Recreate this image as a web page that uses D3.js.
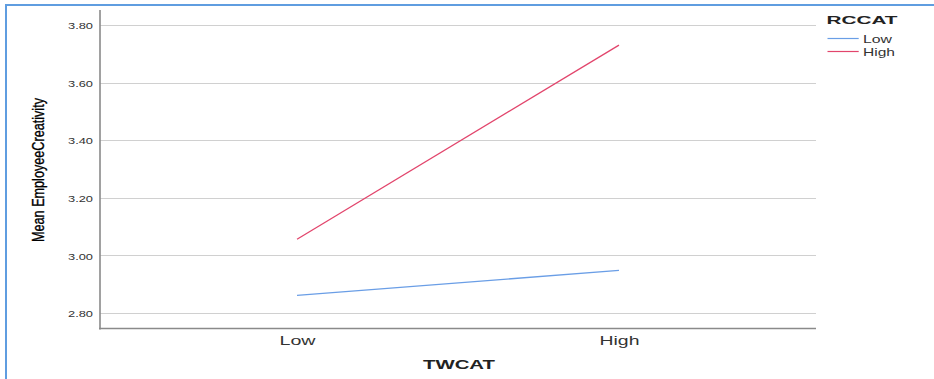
<!DOCTYPE html>
<html><head><meta charset="utf-8">
<script src="https://cdn.jsdelivr.net/npm/d3@7"></script>
<style>html,body{margin:0;padding:0;background:#fff;}svg{display:block;}</style>
</head><body>
<svg id="chart" width="934" height="379"></svg>
<script>
const categories = ["Low", "High"];
const seriesNames = ["Low", "High"];
const lowValues = [2.861, 2.948];
const highValues = [3.056, 3.730];
const yTicks = [2.80, 3.00, 3.20, 3.40, 3.60, 3.80];
const colors = ["#6a9ee6", "#e2456c"];

(function(){
const svg = d3.select("#chart");
const FF = "Liberation Sans, Arial, sans-serif";
// frame
svg.append("line").attr("x1",6).attr("x2",934).attr("y1",5).attr("y2",5).attr("stroke","#5f9de0").attr("stroke-width",2);
svg.append("line").attr("x1",6).attr("x2",6).attr("y1",4).attr("y2",379).attr("stroke","#5f9de0").attr("stroke-width",2);

const mL = 100, mR = 816, mT = 10, mB = 328.5;
const y = d3.scaleLinear().domain([2.8 - 15.5/288, 3.8 + 15/288]).range([mB, mT]);
const x = d3.scalePoint().domain(categories).range([mL, mR]).padding(0.612);

// gridlines
svg.append("g").selectAll("line").data(yTicks).join("line")
  .attr("x1", mL).attr("x2", mR)
  .attr("y1", d => Math.round(y(d))+0.5).attr("y2", d => Math.round(y(d))+0.5)
  .attr("stroke", "#d0d0d0").attr("stroke-width", 1);

// y axis
const yAxis = d3.axisLeft(y).tickValues(yTicks).tickFormat(d3.format(".2f")).tickSize(0).tickPadding(7);
const gy = svg.append("g").attr("transform", `translate(${mL},0)`).call(yAxis);
gy.select(".domain").remove();
gy.selectAll("text").attr("font-family",FF).attr("font-size","8.5px").attr("fill","#333")
  .attr("dy", "0.62em").attr("y", -1.5)
  .attr("textLength", 25).attr("lengthAdjust","spacingAndGlyphs");
svg.append("line").attr("x1",mL).attr("x2",mL).attr("y1",mT).attr("y2",mB+1).attr("stroke","#8a8a8a").attr("stroke-width",1.6);

// x axis
const xAxis = d3.axisBottom(x).tickSize(0).tickPadding(0);
const gx = svg.append("g").attr("transform", `translate(0,${mB})`).call(xAxis);
gx.select(".domain").remove();
gx.selectAll("text").attr("font-family",FF).attr("font-size","12px").attr("fill","#333")
  .attr("dy", null).attr("y", 16.8)
  .attr("textLength", d => d === "Low" ? 36 : 40).attr("lengthAdjust","spacingAndGlyphs");
svg.append("line").attr("x1",mL-1).attr("x2",mR).attr("y1",mB).attr("y2",mB).attr("stroke","#8a8a8a").attr("stroke-width",1.6);

// lines
const line = d3.line().x((d,i) => x(categories[i])).y(d => y(d));
[lowValues, highValues].forEach((vals, i) => {
  svg.append("path").datum(vals).attr("d", line).attr("fill","none").attr("stroke", colors[i]).attr("stroke-width", 1.3);
});

// axis titles
svg.append("text").attr("x", 423).attr("y", 369.3)
  .attr("font-family",FF).attr("font-weight","bold").attr("font-size","13px").attr("fill","#222")
  .attr("textLength", 72).attr("lengthAdjust","spacingAndGlyphs").text("TWCAT");
svg.append("text").attr("transform","translate(44,242) rotate(-90)")
  .attr("font-family",FF).attr("font-size","16.5px").attr("fill","#000")
  .attr("stroke","#000").attr("stroke-width",0.35)
  .attr("textLength", 144).attr("lengthAdjust","spacingAndGlyphs").text("Mean EmployeeCreativity");

// legend
const lg = svg.append("g");
lg.append("text").attr("x", 826.5).attr("y", 24.3).attr("font-family",FF).attr("font-weight","bold").attr("font-size","11.8px").attr("fill","#222")
  .attr("textLength", 71).attr("lengthAdjust","spacingAndGlyphs").text("RCCAT");
seriesNames.forEach((name, i) => {
  const yy = 38 + i*13;
  lg.append("line").attr("x1", 827.5).attr("x2", 858.7).attr("y1", yy+0.5).attr("y2", yy+0.5).attr("stroke", colors[i]).attr("stroke-width", 1.2);
  lg.append("text").attr("x", 863).attr("y", yy+5.3).attr("font-family",FF).attr("font-size","10.5px").attr("fill","#333")
    .attr("textLength", name === "Low" ? 29 : 32).attr("lengthAdjust","spacingAndGlyphs").text(name);
});
})();
</script>
</body></html>
